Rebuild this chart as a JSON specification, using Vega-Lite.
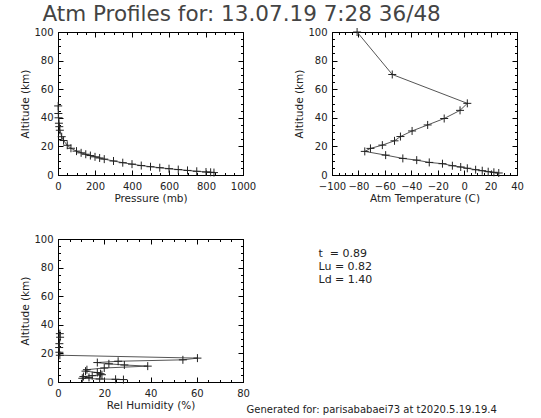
{
  "$schema": "https://vega.github.io/schema/vega-lite/v6.json",
  "padding": {"left": 20, "top": 4, "right": 0, "bottom": 0},
  "background": "white",
  "title": {"text": "Atm Profiles for: 13.07.19 7:28 36/48", "anchor": "start", "dx": 22, "fontSize": 21.5, "font": "DejaVu Sans", "fontWeight": "normal", "color": "#444", "offset": 0},
  "datasets": {
    "pressure": [
      {"p": 843, "alt": 1.7}, {"p": 825, "alt": 1.9}, {"p": 800, "alt": 2.1}, {"p": 750, "alt": 2.6},
      {"p": 700, "alt": 3.2}, {"p": 650, "alt": 3.8}, {"p": 600, "alt": 4.4}, {"p": 550, "alt": 5.1},
      {"p": 500, "alt": 5.8}, {"p": 450, "alt": 6.6}, {"p": 400, "alt": 7.6}, {"p": 350, "alt": 8.6},
      {"p": 300, "alt": 9.8}, {"p": 250, "alt": 11.1}, {"p": 225, "alt": 11.9}, {"p": 200, "alt": 12.7},
      {"p": 175, "alt": 13.6}, {"p": 150, "alt": 14.5}, {"p": 125, "alt": 15.5}, {"p": 100, "alt": 16.7},
      {"p": 70, "alt": 18.7}, {"p": 50, "alt": 20.8}, {"p": 30, "alt": 24.1}, {"p": 20, "alt": 26.8},
      {"p": 10, "alt": 31.3}, {"p": 7, "alt": 33.8}, {"p": 5, "alt": 36.2}, {"p": 3, "alt": 40.0},
      {"p": 2, "alt": 43.0}, {"p": 1, "alt": 48.3}
    ],
    "temperature": [
      {"t": 26.2, "alt": 1.4}, {"t": 22.5, "alt": 1.9}, {"t": 18.2, "alt": 2.3}, {"t": 13.7, "alt": 3.0},
      {"t": 8.7, "alt": 3.7}, {"t": 2.4, "alt": 4.7}, {"t": -2.6, "alt": 5.6}, {"t": -8.9, "alt": 6.5},
      {"t": -16.4, "alt": 7.9}, {"t": -26.4, "alt": 8.8}, {"t": -35.9, "alt": 10.4}, {"t": -46.4, "alt": 11.6},
      {"t": -59.4, "alt": 13.9}, {"t": -75.2, "alt": 16.5}, {"t": -70.9, "alt": 18.6}, {"t": -61.9, "alt": 20.9},
      {"t": -52.7, "alt": 23.9}, {"t": -48.2, "alt": 26.9}, {"t": -39.4, "alt": 30.8}, {"t": -27.6, "alt": 35.0},
      {"t": -15.1, "alt": 39.5}, {"t": -3.1, "alt": 45.2}, {"t": 2.4, "alt": 50.1}, {"t": -54.4, "alt": 70.3},
      {"t": -81.0, "alt": 100.0}
    ],
    "humidity": [
      {"rh": 28.3, "alt": 1.7}, {"rh": 24.9, "alt": 1.9}, {"rh": 18.0, "alt": 2.1}, {"rh": 10.5, "alt": 2.6},
      {"rh": 13.4, "alt": 3.2}, {"rh": 11.0, "alt": 3.8}, {"rh": 14.8, "alt": 4.4}, {"rh": 19.0, "alt": 5.1},
      {"rh": 18.4, "alt": 5.8}, {"rh": 17.0, "alt": 6.6}, {"rh": 11.9, "alt": 7.6}, {"rh": 12.5, "alt": 8.6},
      {"rh": 20.0, "alt": 9.8}, {"rh": 38.8, "alt": 11.1}, {"rh": 28.7, "alt": 11.9}, {"rh": 22.0, "alt": 12.7},
      {"rh": 17.0, "alt": 13.6}, {"rh": 26.0, "alt": 14.5}, {"rh": 54.0, "alt": 15.5}, {"rh": 60.3, "alt": 16.7},
      {"rh": 0.8, "alt": 18.7}, {"rh": 0.6, "alt": 20.8}, {"rh": 0.5, "alt": 24.1}, {"rh": 0.6, "alt": 26.8},
      {"rh": 0.9, "alt": 31.3}, {"rh": 0.8, "alt": 33.8}
    ],
    "params": [
      {"name": "t", "label": "t\u00a0\u00a0= 0.89"},
      {"name": "Lu", "label": "Lu = 0.82"},
      {"name": "Ld", "label": "Ld = 1.40"}
    ]
  },
  "columns": 2,
  "bounds": "flush",
  "spacing": {"row": 64, "column": 89},
  "concat": [
    {
      "width": 185, "height": 143,
      "data": {"name": "pressure"},
      "resolve": {"axis": {"x": "independent", "y": "independent"}},
      "layer": [
        {"mark": {"type": "line", "color": "#555", "strokeWidth": 1},
         "encoding": {
           "x": {"field": "p", "type": "quantitative", "scale": {"domain": [0, 1000], "nice": false, "zero": false}, "axis": {"orient": "bottom", "values": [0, 200, 400, 600, 800, 1000], "format": "d", "tickSize": -5, "title": "Pressure (mb)", "labelPadding": 11, "titlePadding": 2}},
           "y": {"field": "alt", "type": "quantitative", "scale": {"domain": [0, 100], "nice": false, "zero": false}, "axis": {"orient": "left", "values": [0, 20, 40, 60, 80, 100], "tickSize": -5, "title": "Altitude (km)", "labelPadding": 10, "titlePadding": 3}},
           "order": {"field": "alt", "type": "quantitative"}
         }},
        {"mark": {"type": "point", "shape": "M-1,0L1,0M0,-1L0,1", "size": 64, "filled": false, "stroke": "#222", "strokeWidth": 1, "opacity": 1},
         "encoding": {
           "x": {"field": "p", "type": "quantitative", "axis": {"orient": "top", "values": [0, 200, 400, 600, 800, 1000], "tickSize": -5, "labels": false, "title": null}},
           "y": {"field": "alt", "type": "quantitative", "axis": {"orient": "right", "values": [0, 20, 40, 60, 80, 100], "tickSize": -5, "labels": false, "title": null}}
         }},
        {"mark": {"type": "point", "opacity": 0},
         "encoding": {
           "x": {"field": "p", "type": "quantitative", "axis": {"orient": "bottom", "values": [0,50,100,150,200,250,300,350,400,450,500,550,600,650,700,750,800,850,900,950,1000], "tickSize": -2.5, "labels": false, "title": null}},
           "y": {"field": "alt", "type": "quantitative", "axis": {"orient": "left", "values": [0,5,10,15,20,25,30,35,40,45,50,55,60,65,70,75,80,85,90,95,100], "tickSize": -2.5, "labels": false, "title": null}}
         }},
        {"mark": {"type": "point", "opacity": 0},
         "encoding": {
           "x": {"field": "p", "type": "quantitative", "axis": {"orient": "top", "values": [0,50,100,150,200,250,300,350,400,450,500,550,600,650,700,750,800,850,900,950,1000], "tickSize": -2.5, "labels": false, "title": null}},
           "y": {"field": "alt", "type": "quantitative", "axis": {"orient": "right", "values": [0,5,10,15,20,25,30,35,40,45,50,55,60,65,70,75,80,85,90,95,100], "tickSize": -2.5, "labels": false, "title": null}}
         }}
      ]
    },
    {
      "width": 185, "height": 143,
      "data": {"name": "temperature"},
      "resolve": {"axis": {"x": "independent", "y": "independent"}},
      "layer": [
        {"mark": {"type": "line", "color": "#555", "strokeWidth": 1},
         "encoding": {
           "x": {"field": "t", "type": "quantitative", "scale": {"domain": [-100, 40], "nice": false, "zero": false}, "axis": {"orient": "bottom", "values": [-100, -80, -60, -40, -20, 0, 20, 40], "tickSize": -5, "title": "Atm Temperature (C)", "labelPadding": 11, "titlePadding": 2}},
           "y": {"field": "alt", "type": "quantitative", "scale": {"domain": [0, 100], "nice": false, "zero": false}, "axis": {"orient": "left", "values": [0, 20, 40, 60, 80, 100], "tickSize": -5, "title": "Altitude (km)", "labelPadding": 10, "titlePadding": 3}},
           "order": {"field": "alt", "type": "quantitative"}
         }},
        {"mark": {"type": "point", "shape": "M-1,0L1,0M0,-1L0,1", "size": 64, "filled": false, "stroke": "#222", "strokeWidth": 1, "opacity": 1},
         "encoding": {
           "x": {"field": "t", "type": "quantitative", "axis": {"orient": "top", "values": [-100, -80, -60, -40, -20, 0, 20, 40], "tickSize": -5, "labels": false, "title": null}},
           "y": {"field": "alt", "type": "quantitative", "axis": {"orient": "right", "values": [0, 20, 40, 60, 80, 100], "tickSize": -5, "labels": false, "title": null}}
         }},
        {"mark": {"type": "point", "opacity": 0},
         "encoding": {
           "x": {"field": "t", "type": "quantitative", "axis": {"orient": "bottom", "values": [-100,-95,-90,-85,-80,-75,-70,-65,-60,-55,-50,-45,-40,-35,-30,-25,-20,-15,-10,-5,0,5,10,15,20,25,30,35,40], "tickSize": -2.5, "labels": false, "title": null}},
           "y": {"field": "alt", "type": "quantitative", "axis": {"orient": "left", "values": [0,5,10,15,20,25,30,35,40,45,50,55,60,65,70,75,80,85,90,95,100], "tickSize": -2.5, "labels": false, "title": null}}
         }},
        {"mark": {"type": "point", "opacity": 0},
         "encoding": {
           "x": {"field": "t", "type": "quantitative", "axis": {"orient": "top", "values": [-100,-95,-90,-85,-80,-75,-70,-65,-60,-55,-50,-45,-40,-35,-30,-25,-20,-15,-10,-5,0,5,10,15,20,25,30,35,40], "tickSize": -2.5, "labels": false, "title": null}},
           "y": {"field": "alt", "type": "quantitative", "axis": {"orient": "right", "values": [0,5,10,15,20,25,30,35,40,45,50,55,60,65,70,75,80,85,90,95,100], "tickSize": -2.5, "labels": false, "title": null}}
         }}
      ]
    },
    {
      "width": 185, "height": 143,
      "data": {"name": "humidity"},
      "resolve": {"axis": {"x": "independent", "y": "independent"}},
      "layer": [
        {"mark": {"type": "line", "color": "#555", "strokeWidth": 1},
         "encoding": {
           "x": {"field": "rh", "type": "quantitative", "scale": {"domain": [0, 80], "nice": false, "zero": false}, "axis": {"orient": "bottom", "values": [0, 20, 40, 60, 80], "tickSize": -5, "title": "Rel Humidity (%)", "labelPadding": 11, "titlePadding": 2}},
           "y": {"field": "alt", "type": "quantitative", "scale": {"domain": [0, 100], "nice": false, "zero": false}, "axis": {"orient": "left", "values": [0, 20, 40, 60, 80, 100], "tickSize": -5, "title": "Altitude (km)", "labelPadding": 10, "titlePadding": 3}},
           "order": {"field": "alt", "type": "quantitative"}
         }},
        {"mark": {"type": "point", "shape": "M-1,0L1,0M0,-1L0,1", "size": 64, "filled": false, "stroke": "#222", "strokeWidth": 1, "opacity": 1},
         "encoding": {
           "x": {"field": "rh", "type": "quantitative", "axis": {"orient": "top", "values": [0, 20, 40, 60, 80], "tickSize": -5, "labels": false, "title": null}},
           "y": {"field": "alt", "type": "quantitative", "axis": {"orient": "right", "values": [0, 20, 40, 60, 80, 100], "tickSize": -5, "labels": false, "title": null}}
         }},
        {"mark": {"type": "point", "opacity": 0},
         "encoding": {
           "x": {"field": "rh", "type": "quantitative", "axis": {"orient": "bottom", "values": [0,5,10,15,20,25,30,35,40,45,50,55,60,65,70,75,80], "tickSize": -2.5, "labels": false, "title": null}},
           "y": {"field": "alt", "type": "quantitative", "axis": {"orient": "left", "values": [0,5,10,15,20,25,30,35,40,45,50,55,60,65,70,75,80,85,90,95,100], "tickSize": -2.5, "labels": false, "title": null}}
         }},
        {"mark": {"type": "point", "opacity": 0},
         "encoding": {
           "x": {"field": "rh", "type": "quantitative", "axis": {"orient": "top", "values": [0,5,10,15,20,25,30,35,40,45,50,55,60,65,70,75,80], "tickSize": -2.5, "labels": false, "title": null}},
           "y": {"field": "alt", "type": "quantitative", "axis": {"orient": "right", "values": [0,5,10,15,20,25,30,35,40,45,50,55,60,65,70,75,80,85,90,95,100], "tickSize": -2.5, "labels": false, "title": null}}
         }}
      ]
    },
    {
      "width": 185, "height": 143,
      "view": {"stroke": null},
      "data": {"name": "params"},
      "mark": {"type": "text", "align": "left", "baseline": "middle", "dx": -106, "font": "DejaVu Sans", "fontSize": 11, "color": "#222"},
      "encoding": {
        "y": {"field": "name", "type": "ordinal", "sort": null, "scale": {"type": "point", "range": [15, 41], "padding": 0}, "axis": null},
        "text": {"field": "label"}
      },
      "title": {"text": "Generated for: parisababaei73 at t2020.5.19.19.4", "orient": "bottom", "anchor": "start", "dx": -72, "offset": 23, "fontSize": 10, "fontWeight": "normal", "color": "#222", "font": "DejaVu Sans"}
    }
  ],
  "config": {
    "view": {"stroke": "#000", "strokeWidth": 1},
    "font": "DejaVu Sans",
    "axis": {"domain": false, "grid": false, "labelFont": "DejaVu Sans", "labelFontSize": 10, "labelColor": "#222", "titleFont": "DejaVu Sans", "titleFontSize": 10.5, "titleFontWeight": "normal", "titleColor": "#222", "tickColor": "#000", "labelFlush": false, "labelOverlap": false, "labelBound": false}
  }
}
